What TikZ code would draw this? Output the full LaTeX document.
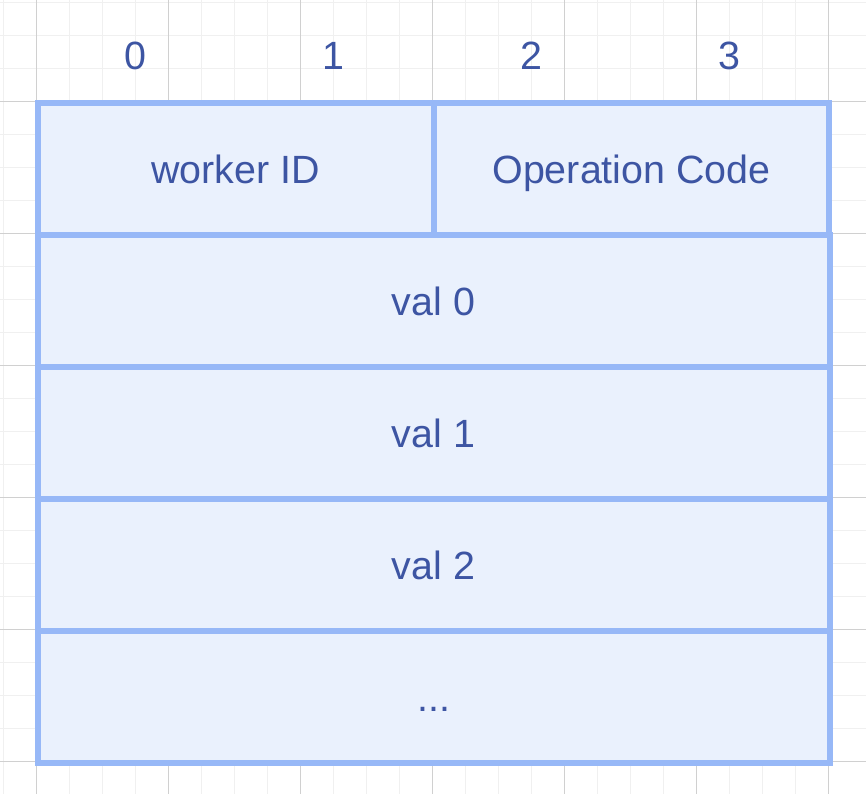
\documentclass[tikz,border=0pt]{standalone}
\usepackage{fontspec}
\setmainfont{Liberation Sans}
\usetikzlibrary{positioning}
\definecolor{cellfill}{HTML}{EAF1FD}
\definecolor{cellline}{HTML}{97B8F7}
\definecolor{celltext}{HTML}{3D55A3}
\definecolor{gridminor}{HTML}{F0F0F0}
\definecolor{gridmajor}{HTML}{D0D0D0}

\begin{document}
\begin{tikzpicture}[x=0.5pt, y=-0.5pt,
    lbl/.style={text=celltext, inner sep=0pt, text height=14.2pt, text depth=0pt,
        font=\fontsize{19.7}{24}\selectfont},
    cell/.style={lbl, draw=cellline, fill=cellfill, line width=3pt, minimum height=66pt},
    half/.style={cell, minimum width=197.9pt},
    full/.style={cell, minimum width=395.9pt}]
\useasboundingbox (0,0) rectangle (866,794);
\fill[white] (0,0) rectangle (866,794);
% background grid
\foreach \i in {0,...,25}
    \draw[gridminor, line width=0.6pt] ({3.5+33*\i},0) -- ({3.5+33*\i},794);
\foreach \j in {0,...,23}
    \draw[gridminor, line width=0.6pt] (0,{2.7+33*\j}) -- (866,{2.7+33*\j});
\foreach \i in {0,...,6}
    \draw[gridmajor, line width=0.5pt] ({36.5+132*\i},0) -- ({36.5+132*\i},794);
\foreach \j in {0,...,5}
    \draw[gridmajor, line width=0.5pt] (0,{101.7+132*\j}) -- (866,{101.7+132*\j});
% byte index
\foreach \n in {0,...,3}
    \node[lbl] (b\n) at ({135+198*\n},55) {\n};
% packet fields
\node[half] (wid) at (235.6,169) {worker ID};
\node[half] (opc) at (631.5,169) {Operation Code};
\node[full] (v0) at (433.6,301) {val 0};
\node[full] (v1) at (433.6,433) {val 1};
\node[full] (v2) at (433.6,565) {val 2};
\node[full] (vn) at (433.6,697) {...};
\end{tikzpicture}
\end{document}
